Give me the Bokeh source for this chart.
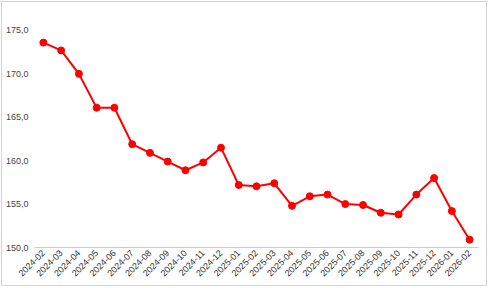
from bokeh.plotting import figure
from bokeh.models import FactorRange, Range1d, CustomJSTickFormatter
from bokeh.embed import file_html
from bokeh.resources import INLINE
import math

months = ["2024-02", "2024-03", "2024-04", "2024-05", "2024-06", "2024-07", "2024-08",
          "2024-09", "2024-10", "2024-11", "2024-12", "2025-01", "2025-02", "2025-03",
          "2025-04", "2025-05", "2025-06", "2025-07", "2025-08", "2025-09", "2025-10",
          "2025-11", "2025-12", "2026-01", "2026-02"]
values = [173.6, 172.7, 170.0, 166.1, 166.1, 161.9, 160.9, 159.9, 158.9, 159.8, 161.5,
          157.2, 157.05, 157.4, 154.8, 155.9, 156.1, 155.0, 154.9, 154.0, 153.8,
          156.1, 158.0, 154.2, 150.9]
y_ticks = [150, 155, 160, 165, 170, 175]

p = figure(width=484, height=283, x_range=FactorRange(factors=months),
           y_range=Range1d(150, 177.3), output_backend="svg", toolbar_location=None,
           min_border_left=20, min_border_right=8, min_border_top=8, min_border_bottom=38)
p.margin = (2, 2, 2, 2)
p.styles = {"outline": "1px solid #d4d4d4"}
p.outline_line_color = None
p.xgrid.grid_line_color = None
p.ygrid.grid_line_color = None
p.x_range.range_padding = 0

p.line(months, values, line_color="#ff0000", line_width=2)
p.scatter(months, values, size=7, fill_color="#ff0000", line_color="#ff0000")

p.yaxis.ticker = y_ticks
p.yaxis.formatter = CustomJSTickFormatter(code="return tick.toFixed(1).replace('.', ',');")
p.yaxis.axis_line_color = None
p.yaxis.major_tick_line_color = None
p.yaxis.minor_tick_line_color = None
p.yaxis.major_tick_in = 0
p.yaxis.major_tick_out = 0
p.yaxis.minor_tick_in = 0
p.yaxis.minor_tick_out = 0
p.yaxis.major_label_standoff = 6
p.yaxis.major_label_text_font = "Liberation Sans"
p.yaxis.major_label_text_font_size = "9px"
p.yaxis.major_label_text_color = "#444444"

p.xaxis.axis_line_color = "#cccccc"
p.xaxis.major_tick_line_color = None
p.xaxis.major_tick_in = 0
p.xaxis.major_tick_out = 0
p.xaxis.major_label_orientation = math.pi / 4
p.xaxis.major_label_standoff = 4
p.xaxis.major_label_text_font = "Liberation Sans"
p.xaxis.major_label_text_font_size = "9px"
p.xaxis.major_label_text_color = "#333333"

open("out.html", "w").write(file_html(p, INLINE))
